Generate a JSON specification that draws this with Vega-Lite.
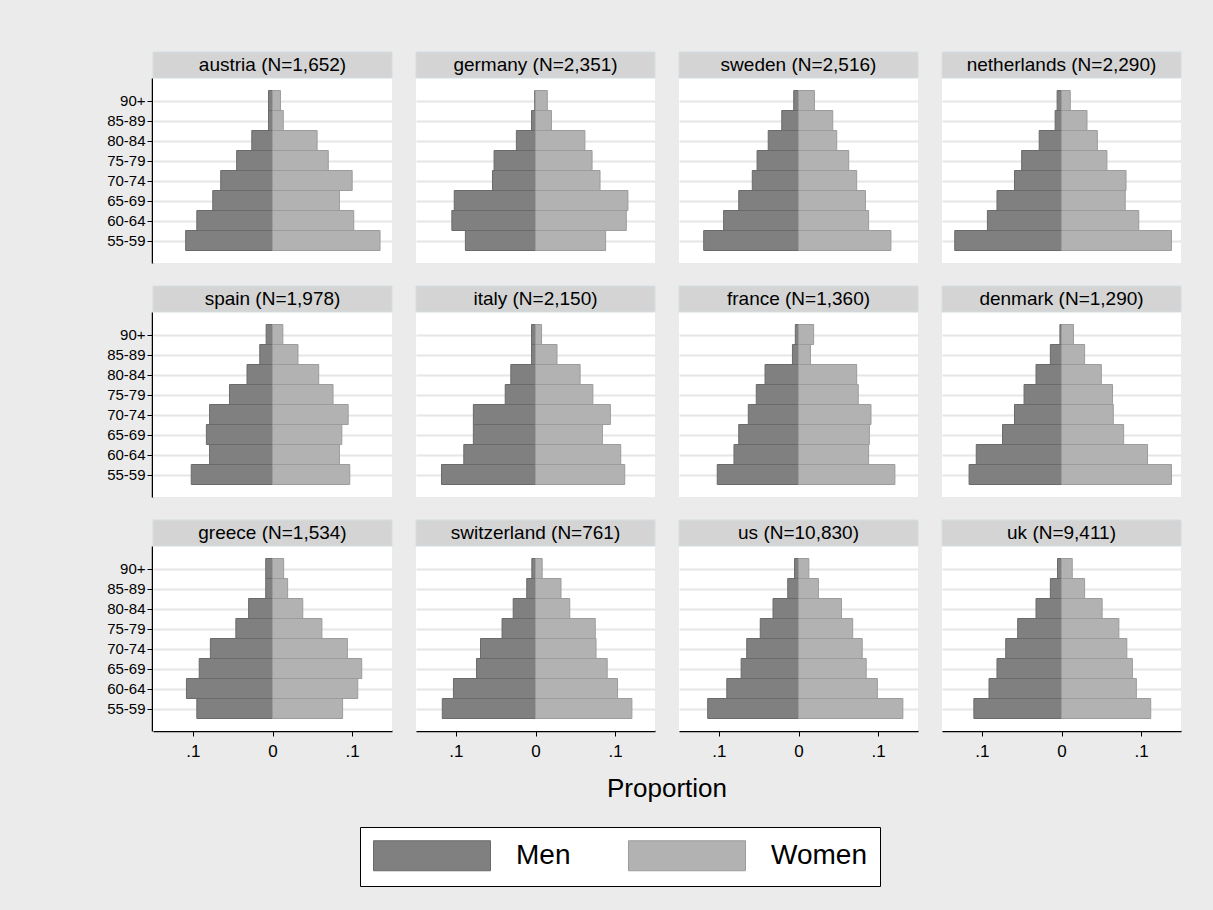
{
  "$schema": "https://vega.github.io/schema/vega-lite/v6.json",
  "background": "#ebebeb",
  "padding": {"left": 106, "top": 51, "right": 40, "bottom": 25},
  "datasets": {
    "countries": [
      {"country": "austria", "n": 1652},
      {"country": "germany", "n": 2351},
      {"country": "sweden", "n": 2516},
      {"country": "netherlands", "n": 2290},
      {"country": "spain", "n": 1978},
      {"country": "italy", "n": 2150},
      {"country": "france", "n": 1360},
      {"country": "denmark", "n": 1290},
      {"country": "greece", "n": 1534},
      {"country": "switzerland", "n": 761},
      {"country": "us", "n": 10830},
      {"country": "uk", "n": 9411}
    ],
    "bars": [
      {"country": "austria", "age": "90+", "sex": "Men", "prop": 0.005},
      {"country": "austria", "age": "90+", "sex": "Women", "prop": 0.010},
      {"country": "austria", "age": "85-89", "sex": "Men", "prop": 0.005},
      {"country": "austria", "age": "85-89", "sex": "Women", "prop": 0.0135},
      {"country": "austria", "age": "80-84", "sex": "Men", "prop": 0.026},
      {"country": "austria", "age": "80-84", "sex": "Women", "prop": 0.056},
      {"country": "austria", "age": "75-79", "sex": "Men", "prop": 0.045},
      {"country": "austria", "age": "75-79", "sex": "Women", "prop": 0.070},
      {"country": "austria", "age": "70-74", "sex": "Men", "prop": 0.065},
      {"country": "austria", "age": "70-74", "sex": "Women", "prop": 0.100},
      {"country": "austria", "age": "65-69", "sex": "Men", "prop": 0.075},
      {"country": "austria", "age": "65-69", "sex": "Women", "prop": 0.084},
      {"country": "austria", "age": "60-64", "sex": "Men", "prop": 0.095},
      {"country": "austria", "age": "60-64", "sex": "Women", "prop": 0.102},
      {"country": "austria", "age": "55-59", "sex": "Men", "prop": 0.109},
      {"country": "austria", "age": "55-59", "sex": "Women", "prop": 0.135},

      {"country": "germany", "age": "90+", "sex": "Men", "prop": 0.001},
      {"country": "germany", "age": "90+", "sex": "Women", "prop": 0.0148},
      {"country": "germany", "age": "85-89", "sex": "Men", "prop": 0.005},
      {"country": "germany", "age": "85-89", "sex": "Women", "prop": 0.020},
      {"country": "germany", "age": "80-84", "sex": "Men", "prop": 0.024},
      {"country": "germany", "age": "80-84", "sex": "Women", "prop": 0.062},
      {"country": "germany", "age": "75-79", "sex": "Men", "prop": 0.052},
      {"country": "germany", "age": "75-79", "sex": "Women", "prop": 0.071},
      {"country": "germany", "age": "70-74", "sex": "Men", "prop": 0.054},
      {"country": "germany", "age": "70-74", "sex": "Women", "prop": 0.081},
      {"country": "germany", "age": "65-69", "sex": "Men", "prop": 0.102},
      {"country": "germany", "age": "65-69", "sex": "Women", "prop": 0.116},
      {"country": "germany", "age": "60-64", "sex": "Men", "prop": 0.105},
      {"country": "germany", "age": "60-64", "sex": "Women", "prop": 0.114},
      {"country": "germany", "age": "55-59", "sex": "Men", "prop": 0.088},
      {"country": "germany", "age": "55-59", "sex": "Women", "prop": 0.088},

      {"country": "sweden", "age": "90+", "sex": "Men", "prop": 0.006},
      {"country": "sweden", "age": "90+", "sex": "Women", "prop": 0.020},
      {"country": "sweden", "age": "85-89", "sex": "Men", "prop": 0.021},
      {"country": "sweden", "age": "85-89", "sex": "Women", "prop": 0.043},
      {"country": "sweden", "age": "80-84", "sex": "Men", "prop": 0.038},
      {"country": "sweden", "age": "80-84", "sex": "Women", "prop": 0.048},
      {"country": "sweden", "age": "75-79", "sex": "Men", "prop": 0.052},
      {"country": "sweden", "age": "75-79", "sex": "Women", "prop": 0.063},
      {"country": "sweden", "age": "70-74", "sex": "Men", "prop": 0.058},
      {"country": "sweden", "age": "70-74", "sex": "Women", "prop": 0.073},
      {"country": "sweden", "age": "65-69", "sex": "Men", "prop": 0.075},
      {"country": "sweden", "age": "65-69", "sex": "Women", "prop": 0.084},
      {"country": "sweden", "age": "60-64", "sex": "Men", "prop": 0.094},
      {"country": "sweden", "age": "60-64", "sex": "Women", "prop": 0.088},
      {"country": "sweden", "age": "55-59", "sex": "Men", "prop": 0.119},
      {"country": "sweden", "age": "55-59", "sex": "Women", "prop": 0.116},

      {"country": "netherlands", "age": "90+", "sex": "Men", "prop": 0.0055},
      {"country": "netherlands", "age": "90+", "sex": "Women", "prop": 0.011},
      {"country": "netherlands", "age": "85-89", "sex": "Men", "prop": 0.008},
      {"country": "netherlands", "age": "85-89", "sex": "Women", "prop": 0.032},
      {"country": "netherlands", "age": "80-84", "sex": "Men", "prop": 0.028},
      {"country": "netherlands", "age": "80-84", "sex": "Women", "prop": 0.045},
      {"country": "netherlands", "age": "75-79", "sex": "Men", "prop": 0.050},
      {"country": "netherlands", "age": "75-79", "sex": "Women", "prop": 0.057},
      {"country": "netherlands", "age": "70-74", "sex": "Men", "prop": 0.059},
      {"country": "netherlands", "age": "70-74", "sex": "Women", "prop": 0.081},
      {"country": "netherlands", "age": "65-69", "sex": "Men", "prop": 0.081},
      {"country": "netherlands", "age": "65-69", "sex": "Women", "prop": 0.080},
      {"country": "netherlands", "age": "60-64", "sex": "Men", "prop": 0.093},
      {"country": "netherlands", "age": "60-64", "sex": "Women", "prop": 0.097},
      {"country": "netherlands", "age": "55-59", "sex": "Men", "prop": 0.134},
      {"country": "netherlands", "age": "55-59", "sex": "Women", "prop": 0.138},

      {"country": "spain", "age": "90+", "sex": "Men", "prop": 0.008},
      {"country": "spain", "age": "90+", "sex": "Women", "prop": 0.013},
      {"country": "spain", "age": "85-89", "sex": "Men", "prop": 0.016},
      {"country": "spain", "age": "85-89", "sex": "Women", "prop": 0.032},
      {"country": "spain", "age": "80-84", "sex": "Men", "prop": 0.032},
      {"country": "spain", "age": "80-84", "sex": "Women", "prop": 0.058},
      {"country": "spain", "age": "75-79", "sex": "Men", "prop": 0.054},
      {"country": "spain", "age": "75-79", "sex": "Women", "prop": 0.076},
      {"country": "spain", "age": "70-74", "sex": "Men", "prop": 0.079},
      {"country": "spain", "age": "70-74", "sex": "Women", "prop": 0.095},
      {"country": "spain", "age": "65-69", "sex": "Men", "prop": 0.083},
      {"country": "spain", "age": "65-69", "sex": "Women", "prop": 0.087},
      {"country": "spain", "age": "60-64", "sex": "Men", "prop": 0.079},
      {"country": "spain", "age": "60-64", "sex": "Women", "prop": 0.084},
      {"country": "spain", "age": "55-59", "sex": "Men", "prop": 0.102},
      {"country": "spain", "age": "55-59", "sex": "Women", "prop": 0.097},

      {"country": "italy", "age": "90+", "sex": "Men", "prop": 0.005},
      {"country": "italy", "age": "90+", "sex": "Women", "prop": 0.0076},
      {"country": "italy", "age": "85-89", "sex": "Men", "prop": 0.005},
      {"country": "italy", "age": "85-89", "sex": "Women", "prop": 0.027},
      {"country": "italy", "age": "80-84", "sex": "Men", "prop": 0.031},
      {"country": "italy", "age": "80-84", "sex": "Women", "prop": 0.056},
      {"country": "italy", "age": "75-79", "sex": "Men", "prop": 0.038},
      {"country": "italy", "age": "75-79", "sex": "Women", "prop": 0.072},
      {"country": "italy", "age": "70-74", "sex": "Men", "prop": 0.078},
      {"country": "italy", "age": "70-74", "sex": "Women", "prop": 0.094},
      {"country": "italy", "age": "65-69", "sex": "Men", "prop": 0.078},
      {"country": "italy", "age": "65-69", "sex": "Women", "prop": 0.084},
      {"country": "italy", "age": "60-64", "sex": "Men", "prop": 0.090},
      {"country": "italy", "age": "60-64", "sex": "Women", "prop": 0.107},
      {"country": "italy", "age": "55-59", "sex": "Men", "prop": 0.118},
      {"country": "italy", "age": "55-59", "sex": "Women", "prop": 0.112},

      {"country": "france", "age": "90+", "sex": "Men", "prop": 0.004},
      {"country": "france", "age": "90+", "sex": "Women", "prop": 0.019},
      {"country": "france", "age": "85-89", "sex": "Men", "prop": 0.0076},
      {"country": "france", "age": "85-89", "sex": "Women", "prop": 0.015},
      {"country": "france", "age": "80-84", "sex": "Men", "prop": 0.042},
      {"country": "france", "age": "80-84", "sex": "Women", "prop": 0.073},
      {"country": "france", "age": "75-79", "sex": "Men", "prop": 0.053},
      {"country": "france", "age": "75-79", "sex": "Women", "prop": 0.075},
      {"country": "france", "age": "70-74", "sex": "Men", "prop": 0.063},
      {"country": "france", "age": "70-74", "sex": "Women", "prop": 0.091},
      {"country": "france", "age": "65-69", "sex": "Men", "prop": 0.075},
      {"country": "france", "age": "65-69", "sex": "Women", "prop": 0.089},
      {"country": "france", "age": "60-64", "sex": "Men", "prop": 0.081},
      {"country": "france", "age": "60-64", "sex": "Women", "prop": 0.088},
      {"country": "france", "age": "55-59", "sex": "Men", "prop": 0.102},
      {"country": "france", "age": "55-59", "sex": "Women", "prop": 0.121},

      {"country": "denmark", "age": "90+", "sex": "Men", "prop": 0.002},
      {"country": "denmark", "age": "90+", "sex": "Women", "prop": 0.015},
      {"country": "denmark", "age": "85-89", "sex": "Men", "prop": 0.014},
      {"country": "denmark", "age": "85-89", "sex": "Women", "prop": 0.029},
      {"country": "denmark", "age": "80-84", "sex": "Men", "prop": 0.032},
      {"country": "denmark", "age": "80-84", "sex": "Women", "prop": 0.050},
      {"country": "denmark", "age": "75-79", "sex": "Men", "prop": 0.047},
      {"country": "denmark", "age": "75-79", "sex": "Women", "prop": 0.064},
      {"country": "denmark", "age": "70-74", "sex": "Men", "prop": 0.059},
      {"country": "denmark", "age": "70-74", "sex": "Women", "prop": 0.065},
      {"country": "denmark", "age": "65-69", "sex": "Men", "prop": 0.074},
      {"country": "denmark", "age": "65-69", "sex": "Women", "prop": 0.078},
      {"country": "denmark", "age": "60-64", "sex": "Men", "prop": 0.107},
      {"country": "denmark", "age": "60-64", "sex": "Women", "prop": 0.108},
      {"country": "denmark", "age": "55-59", "sex": "Men", "prop": 0.116},
      {"country": "denmark", "age": "55-59", "sex": "Women", "prop": 0.138},

      {"country": "greece", "age": "90+", "sex": "Men", "prop": 0.0085},
      {"country": "greece", "age": "90+", "sex": "Women", "prop": 0.014},
      {"country": "greece", "age": "85-89", "sex": "Men", "prop": 0.0085},
      {"country": "greece", "age": "85-89", "sex": "Women", "prop": 0.019},
      {"country": "greece", "age": "80-84", "sex": "Men", "prop": 0.030},
      {"country": "greece", "age": "80-84", "sex": "Women", "prop": 0.038},
      {"country": "greece", "age": "75-79", "sex": "Men", "prop": 0.046},
      {"country": "greece", "age": "75-79", "sex": "Women", "prop": 0.062},
      {"country": "greece", "age": "70-74", "sex": "Men", "prop": 0.078},
      {"country": "greece", "age": "70-74", "sex": "Women", "prop": 0.094},
      {"country": "greece", "age": "65-69", "sex": "Men", "prop": 0.092},
      {"country": "greece", "age": "65-69", "sex": "Women", "prop": 0.112},
      {"country": "greece", "age": "60-64", "sex": "Men", "prop": 0.108},
      {"country": "greece", "age": "60-64", "sex": "Women", "prop": 0.107},
      {"country": "greece", "age": "55-59", "sex": "Men", "prop": 0.095},
      {"country": "greece", "age": "55-59", "sex": "Women", "prop": 0.088},

      {"country": "switzerland", "age": "90+", "sex": "Men", "prop": 0.0046},
      {"country": "switzerland", "age": "90+", "sex": "Women", "prop": 0.0084},
      {"country": "switzerland", "age": "85-89", "sex": "Men", "prop": 0.011},
      {"country": "switzerland", "age": "85-89", "sex": "Women", "prop": 0.032},
      {"country": "switzerland", "age": "80-84", "sex": "Men", "prop": 0.028},
      {"country": "switzerland", "age": "80-84", "sex": "Women", "prop": 0.043},
      {"country": "switzerland", "age": "75-79", "sex": "Men", "prop": 0.042},
      {"country": "switzerland", "age": "75-79", "sex": "Women", "prop": 0.075},
      {"country": "switzerland", "age": "70-74", "sex": "Men", "prop": 0.069},
      {"country": "switzerland", "age": "70-74", "sex": "Women", "prop": 0.076},
      {"country": "switzerland", "age": "65-69", "sex": "Men", "prop": 0.074},
      {"country": "switzerland", "age": "65-69", "sex": "Women", "prop": 0.090},
      {"country": "switzerland", "age": "60-64", "sex": "Men", "prop": 0.103},
      {"country": "switzerland", "age": "60-64", "sex": "Women", "prop": 0.103},
      {"country": "switzerland", "age": "55-59", "sex": "Men", "prop": 0.117},
      {"country": "switzerland", "age": "55-59", "sex": "Women", "prop": 0.121},

      {"country": "us", "age": "90+", "sex": "Men", "prop": 0.005},
      {"country": "us", "age": "90+", "sex": "Women", "prop": 0.013},
      {"country": "us", "age": "85-89", "sex": "Men", "prop": 0.0135},
      {"country": "us", "age": "85-89", "sex": "Women", "prop": 0.025},
      {"country": "us", "age": "80-84", "sex": "Men", "prop": 0.032},
      {"country": "us", "age": "80-84", "sex": "Women", "prop": 0.054},
      {"country": "us", "age": "75-79", "sex": "Men", "prop": 0.048},
      {"country": "us", "age": "75-79", "sex": "Women", "prop": 0.068},
      {"country": "us", "age": "70-74", "sex": "Men", "prop": 0.065},
      {"country": "us", "age": "70-74", "sex": "Women", "prop": 0.080},
      {"country": "us", "age": "65-69", "sex": "Men", "prop": 0.072},
      {"country": "us", "age": "65-69", "sex": "Women", "prop": 0.085},
      {"country": "us", "age": "60-64", "sex": "Men", "prop": 0.090},
      {"country": "us", "age": "60-64", "sex": "Women", "prop": 0.099},
      {"country": "us", "age": "55-59", "sex": "Men", "prop": 0.114},
      {"country": "us", "age": "55-59", "sex": "Women", "prop": 0.131},

      {"country": "uk", "age": "90+", "sex": "Men", "prop": 0.005},
      {"country": "uk", "age": "90+", "sex": "Women", "prop": 0.0135},
      {"country": "uk", "age": "85-89", "sex": "Men", "prop": 0.014},
      {"country": "uk", "age": "85-89", "sex": "Women", "prop": 0.029},
      {"country": "uk", "age": "80-84", "sex": "Men", "prop": 0.032},
      {"country": "uk", "age": "80-84", "sex": "Women", "prop": 0.051},
      {"country": "uk", "age": "75-79", "sex": "Men", "prop": 0.055},
      {"country": "uk", "age": "75-79", "sex": "Women", "prop": 0.072},
      {"country": "uk", "age": "70-74", "sex": "Men", "prop": 0.070},
      {"country": "uk", "age": "70-74", "sex": "Women", "prop": 0.082},
      {"country": "uk", "age": "65-69", "sex": "Men", "prop": 0.081},
      {"country": "uk", "age": "65-69", "sex": "Women", "prop": 0.089},
      {"country": "uk", "age": "60-64", "sex": "Men", "prop": 0.091},
      {"country": "uk", "age": "60-64", "sex": "Women", "prop": 0.094},
      {"country": "uk", "age": "55-59", "sex": "Men", "prop": 0.110},
      {"country": "uk", "age": "55-59", "sex": "Women", "prop": 0.112}
    ]
  },
  "data": {"name": "bars"},
  "transform": [
    {"lookup": "country", "from": {"data": {"name": "countries"}, "key": "country", "fields": ["n"]}},
    {"calculate": "datum.country + ' (N=' + format(datum.n, ',') + ')'", "as": "hdr"},
    {"calculate": "datum.sex === 'Men' ? -datum.prop : datum.prop", "as": "signed"},
    {"calculate": "indexof(['55-59','60-64','65-69','70-74','75-79','80-84','85-89','90+'], datum.age)", "as": "agepos"}
  ],
  "columns": 4,
  "spacing": {"row": 22, "column": 22},
  "facet": {
    "field": "country",
    "type": "nominal",
    "title": "Proportion",
    "sort": ["austria", "germany", "sweden", "netherlands", "spain", "italy", "france", "denmark", "greece", "switzerland", "us", "uk"],
    "header": {
      "labels": false,
      "labelExpr": "''",
      "labelFontSize": 0,
      "labelPadding": 0,
      "titleOrient": "bottom",
      "titleFont": "Liberation Sans",
      "titleFontSize": 26,
      "titleFontWeight": "normal",
      "titleColor": "black",
      "titlePadding": 17
    }
  },
  "spec": {
    "width": 239,
    "height": 211,
    "layer": [
      {
        "transform": [
          {"aggregate": [{"op": "count", "as": "k"}], "groupby": ["country", "hdr"]}
        ],
        "mark": {"type": "rect", "fill": "#d4d4d4", "stroke": "#d3dee2", "strokeWidth": 1},
        "encoding": {
          "x": {
            "datum": -0.15, "type": "quantitative",
            "scale": {"domain": [-0.15, 0.15], "nice": false, "zero": false, "padding": 0},
            "axis": {"title": null, "values": [-0.1, 0, 0.1], "labelExpr": "datum.value == 0 ? '0' : replace(format(abs(datum.value), '.1f'), '0.', '.')", "grid": false}
          },
          "x2": {"datum": 0.15},
          "y": {
            "datum": 9.425, "type": "quantitative",
            "scale": {"domain": [-1.125, 8.125], "range": [211, 26], "nice": false, "zero": false, "padding": 0},
            "axis": {"title": null, "values": [0, 1, 2, 3, 4, 5, 6, 7], "labelExpr": "['55-59','60-64','65-69','70-74','75-79','80-84','85-89','90+'][datum.value]", "labelOverlap": false, "grid": true}
          },
          "y2": {"datum": 8.125}
        }
      },
      {
        "transform": [
          {"aggregate": [{"op": "count", "as": "k"}], "groupby": ["country", "hdr"]}
        ],
        "mark": {"type": "text", "font": "Liberation Sans", "fontSize": 19, "color": "black", "baseline": "middle", "align": "center"},
        "encoding": {
          "x": {
            "datum": 0, "type": "quantitative",
            "scale": {"domain": [-0.15, 0.15], "nice": false, "zero": false, "padding": 0},
            "axis": {"title": null, "values": [-0.1, 0, 0.1], "labelExpr": "datum.value == 0 ? '0' : replace(format(abs(datum.value), '.1f'), '0.', '.')", "grid": false}
          },
          "y": {
            "datum": 8.775, "type": "quantitative",
            "scale": {"domain": [-1.125, 8.125], "range": [211, 26], "nice": false, "zero": false, "padding": 0},
            "axis": {"title": null, "values": [0, 1, 2, 3, 4, 5, 6, 7], "labelExpr": "['55-59','60-64','65-69','70-74','75-79','80-84','85-89','90+'][datum.value]", "labelOverlap": false, "grid": true}
          },
          "text": {"field": "hdr"}
        }
      },
      {
        "mark": {"type": "bar", "orient": "horizontal", "strokeWidth": 1},
        "encoding": {
          "x": {
            "field": "signed",
            "type": "quantitative",
            "scale": {"domain": [-0.15, 0.15], "nice": false, "zero": false, "padding": 0},
            "axis": {
              "title": null,
              "values": [-0.1, 0, 0.1],
              "labelExpr": "datum.value == 0 ? '0' : replace(format(abs(datum.value), '.1f'), '0.', '.')",
              "grid": false
            }
          },
          "x2": {"datum": 0},
          "y": {
            "field": "agepos",
            "type": "quantitative",
            "scale": {"domain": [-1.125, 8.125], "range": [211, 26], "nice": false, "zero": false, "padding": 0},
            "axis": {
              "title": null,
              "values": [0, 1, 2, 3, 4, 5, 6, 7],
              "labelExpr": "['55-59','60-64','65-69','70-74','75-79','80-84','85-89','90+'][datum.value]",
              "labelOverlap": false,
              "grid": true
            }
          },
          "size": {"value": 20},
          "color": {
            "field": "sex",
            "type": "nominal",
            "scale": {"domain": ["Men", "Women"], "range": ["#808080", "#b2b2b2"]},
            "legend": {
              "orient": "none",
              "legendX": 207,
              "legendY": 775,
              "direction": "horizontal",
              "title": null,
              "symbolType": "M-1,-1H6.8V1H-1Z",
              "symbolSize": 900,
              "symbolStrokeColor": "#6a6a6a",
              "symbolStrokeWidth": 1,
              "labelFont": "Liberation Sans",
              "labelFontSize": 28,
              "labelColor": "black",
              "labelOffset": 112,
              "columnPadding": 55,
              "padding": 13,
              "fillColor": "white",
              "strokeColor": "black",
              "cornerRadius": 0
            }
          },
          "stroke": {
            "field": "sex",
            "type": "nominal",
            "scale": {"domain": ["Men", "Women"], "range": ["#6a6a6a", "#9c9c9c"]},
            "legend": null
          }
        }
      }
    ]
  },
  "config": {
    "font": "Liberation Sans",
    "view": {"stroke": null, "fill": "white"},
    "axis": {
      "labelOverlap": false,
      "labelFont": "Liberation Sans",
      "labelColor": "black",
      "tickSize": 5,
      "tickColor": "black",
      "domainColor": "black",
      "domainWidth": 1.5,
      "gridColor": "#e6e6e6",
      "gridWidth": 2
    },
    "axisX": {"labelFontSize": 17, "labelPadding": 7},
    "axisY": {"labelFontSize": 15, "labelPadding": 2},
    "scale": {"continuousPadding": 0}
  }
}
